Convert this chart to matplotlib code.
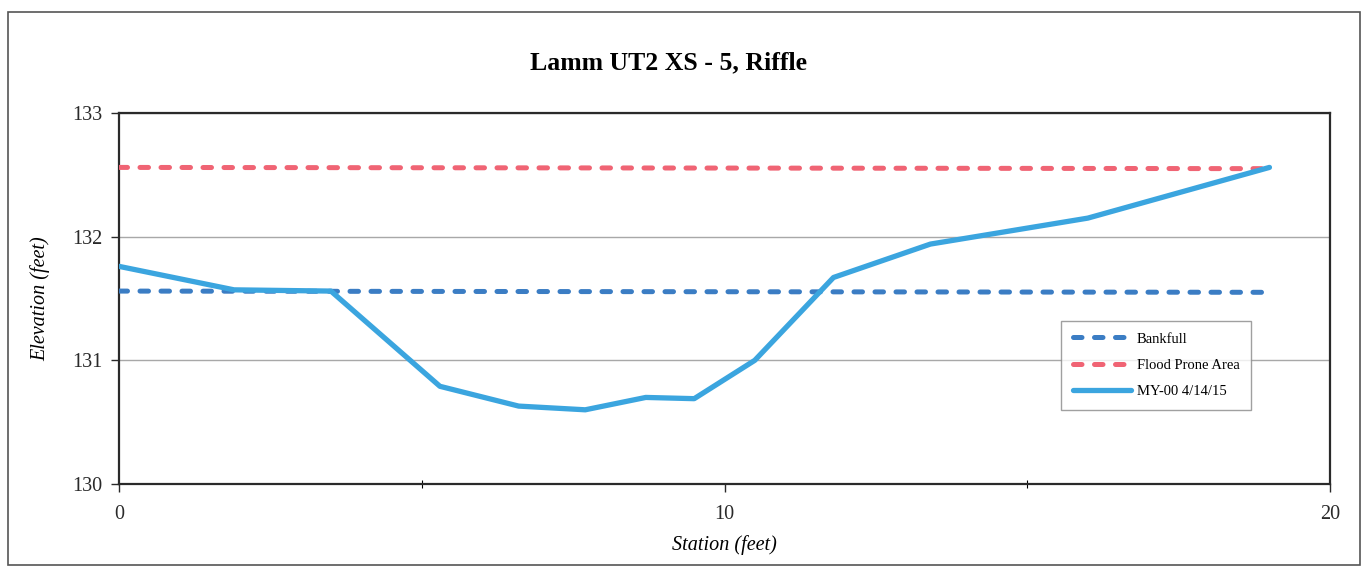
import matplotlib
matplotlib.use("Agg")
import matplotlib.pyplot as plt
from matplotlib.patches import Rectangle

# ---- data ----
station = [0, 1.9, 3.5, 5.3, 6.6, 7.7, 8.7, 9.5, 10.5, 11.8, 13.4, 16.0, 19.0]
elevation = [131.76, 131.57, 131.56, 130.79, 130.63, 130.60, 130.70, 130.69,
             131.00, 131.67, 131.94, 132.15, 132.56]
bankfull_x = [0, 19.0]
bankfull_y = [131.56, 131.55]
flood_x = [0, 19.0]
flood_y = [132.56, 132.55]
x_ticks = [0, 10, 20]
y_ticks = [130, 131, 132, 133]

title = "Lamm UT2 XS - 5, Riffle"
xlabel = "Station (feet)"
ylabel = "Elevation (feet)"

plt.rcParams['font.family'] = ['Liberation Serif', 'DejaVu Serif']

fig = plt.figure(figsize=(13.69, 5.74), dpi=100)
# outer chart frame
fig.patches.append(Rectangle((8/1369, 1 - 565/574), (1360-8)/1369, (565-12)/574,
                             transform=fig.transFigure, fill=False,
                             edgecolor='#555555', linewidth=1.2))

ax = fig.add_axes([119/1369, 1 - 484/574, (1330-119)/1369, (484-113)/574])

dash = (0, (1.7, 2.5))
ax.plot(bankfull_x, bankfull_y, color='#3b7dc4', linewidth=3.6,
        linestyle=dash, dash_capstyle='round', label='Bankfull', zorder=3)
ax.plot(flood_x, flood_y, color='#f06474', linewidth=3.6,
        linestyle=dash, dash_capstyle='round', label='Flood Prone Area', zorder=3)
ax.plot(station, elevation, color='#3ba5df', linewidth=3.8,
        solid_capstyle='round', label='MY-00 4/14/15', zorder=4)

ax.set_xlim(0, 20)
ax.set_ylim(130, 133)
ax.set_xticks(x_ticks)
ax.set_yticks(y_ticks)
ax.set_xticks([5, 15], minor=True)
ax.grid(axis='y', which='major', color='#a8a8a8', linewidth=1.0, zorder=1)
for s in ax.spines.values():
    s.set_color('#2a2a2a')
    s.set_linewidth(1.6)
ax.tick_params(axis='both', which='major', labelsize=14.5, direction='out',
               length=6, width=1.0, colors='#2a2a2a', pad=6)
ax.tick_params(axis='x', which='major', pad=9)
ax.tick_params(axis='x', which='minor', direction='inout', length=6, width=0.8)

fig.text(668/1369, 1 - 63/574, title, fontsize=18.5, fontweight='bold',
         ha='center', va='center')
ax.set_xlabel(xlabel, fontsize=14.5, style='italic', labelpad=8)
ax.set_ylabel(ylabel, fontsize=14.5, style='italic', labelpad=16)

leg = ax.legend(loc='upper left', bbox_to_anchor=(0.772, 0.46), fontsize=10.5,
                frameon=True, fancybox=False, edgecolor='#888888',
                handlelength=4.0, borderpad=0.8, labelspacing=0.9,
                handletextpad=0.4)
leg.get_frame().set_linewidth(1.0)

fig.savefig("out.png", dpi=100)
